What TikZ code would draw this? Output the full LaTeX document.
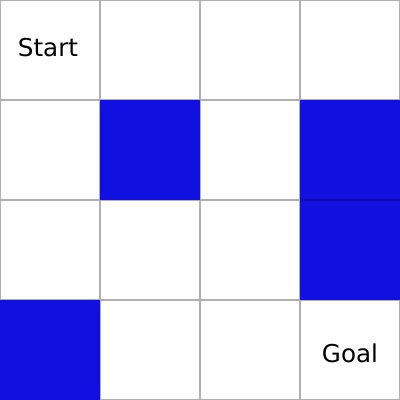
\documentclass[tikz,border=0pt]{standalone}
\usepackage{fontspec}
\setmainfont{DejaVu Sans}
\usetikzlibrary{positioning}
\definecolor{gridLine}{HTML}{B0B0B0}
\definecolor{wallBlue}{HTML}{1010E0}
\tikzset{
  grid cell/.style={draw=gridLine,line width=0.3pt},
  wall cell/.style={fill=wallBlue,draw=none},
  wall seam/.style={draw=wallBlue!75!black,line width=0.3pt},
  cell label/.style={font=\fontsize{7pt}{8pt}\selectfont,text=black},
}
\begin{document}
\begin{tikzpicture}[x=1cm,y=1cm]
  \useasboundingbox (0,0) rectangle (4,4);
  % grid of cells
  \foreach \c in {0,1,2,3}
    \foreach \r in {0,1,2,3}
      \draw[grid cell] (\c,\r) rectangle ++(1,1);
  % walls (column, row from bottom)
  \foreach \c/\r in {1/2,3/2,3/1,0/0}
    \fill[wall cell] (\c,\r) rectangle ++(1,1);
  \draw[wall seam] (3,2) -- (4,2);
  \node[cell label] (start) at (0.48,3.52) {Start};
  \node[cell label] (goal)  at (3.5,0.47) {Goal};
\end{tikzpicture}
\end{document}
